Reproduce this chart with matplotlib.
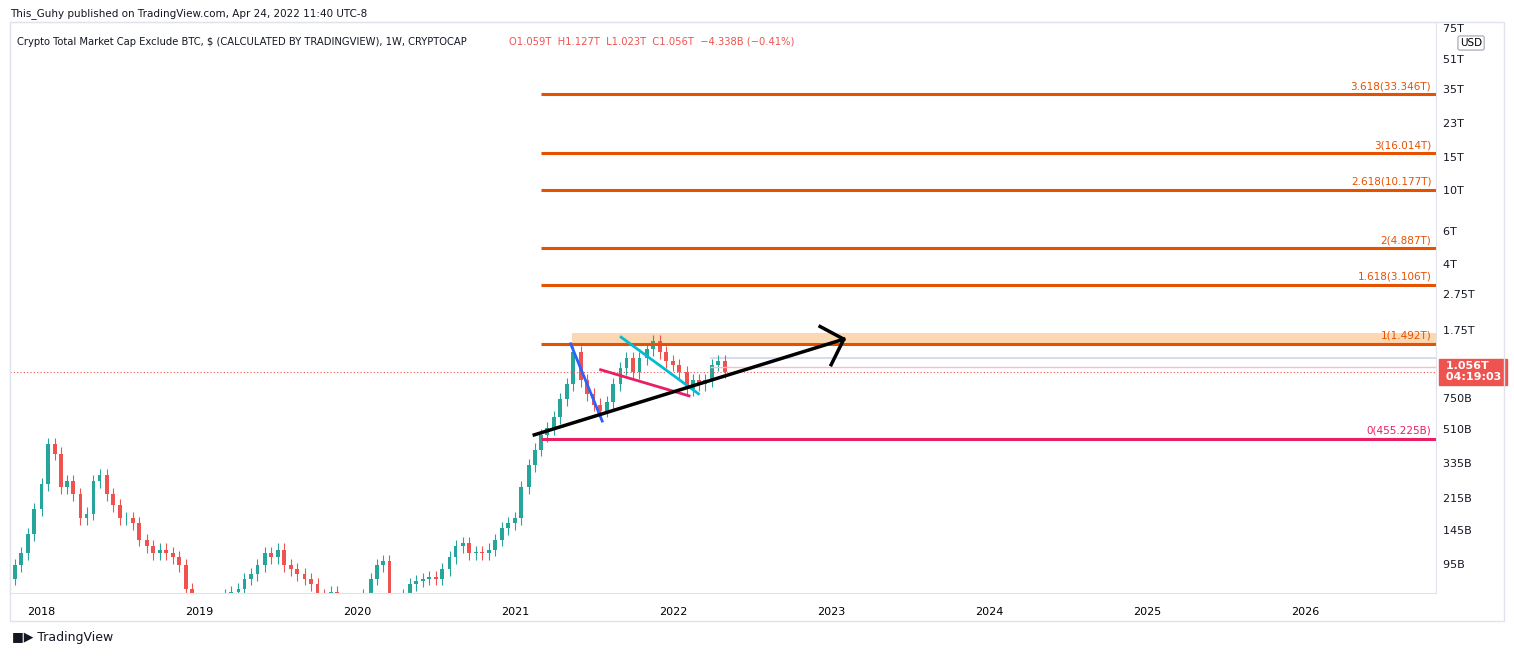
import matplotlib
matplotlib.use("Agg")
import matplotlib.pyplot as plt
import numpy as np
import pandas as pd

# half-monthly closes, billions USD, from mid-Sep 2017 to mid-Apr 2022
CLOSES = [
    75, 80, 95, 110, 140, 190, 260,
    430, 380, 250, 270, 230, 170, 180, 270, 290, 230, 200, 170, 170, 160,
    130, 120, 110, 115, 110, 105, 95, 70, 55, 62,
    60, 55, 58, 65, 68, 70, 80, 85, 95, 110, 105, 115, 95, 90, 85, 80,
    75, 65, 62, 68, 62, 58, 55, 56,
    65, 80, 95, 100, 60, 55, 65, 75, 78, 80, 82, 80, 90, 105, 120, 125,
    110, 112, 110, 115, 130, 150, 160, 170,
    250, 330, 400, 480, 520, 600, 750, 900, 1350, 950, 800, 700, 650, 720,
    900, 1100, 1250, 1050, 1250, 1400, 1550, 1350, 1200, 1150,
    1050, 850, 950, 900, 950, 1150, 1200, 1056,
]
START = "2017-09-16"

FIB_LEVELS = [33346, 16014, 10177, 4887, 3106, 1492]
FIB_LABELS = ["3.618(33.346T)", "3(16.014T)", "2.618(10.177T)", "2(4.887T)", "1.618(3.106T)", "1(1.492T)"]
FIB_ZERO = 455.225
FIB_START = 2021.16

Y_TICKS = [95, 145, 215, 335, 510, 750, 1150, 1750, 2750, 4000, 6000, 10000, 15000, 23000, 35000, 51000, 75000]
Y_TICK_LABELS = ["95B", "145B", "215B", "335B", "510B", "750B", "1.15T", "1.75T", "2.75T", "4T", "6T",
                 "10T", "15T", "23T", "35T", "51T", "75T"]
YEARS = list(range(2018, 2027))

# drawings: (x0, y0, x1, y1) in year / billions
BLUE_LINE = (2021.35, 1492, 2021.55, 570)
TEAL_LINE = (2021.67, 1620, 2022.16, 800)
PINK_LINE = (2021.54, 1080, 2022.10, 780)
BLACK_ARROW = (2021.12, 480, 2023.08, 1580)
ARROW_HEAD = [(2022.93, 1850), (2023.08, 1580), (2023.00, 1150)]

UP, DOWN = "#26a69a", "#ef5350"
ORANGE, PINK = "#e65100", "#e91e63"

dates = pd.date_range(START, periods=len(CLOSES), freq="SMS")
xs = dates.year + (dates.dayofyear - 1) / 365.25
closes = np.array(CLOSES, dtype=float)
opens = np.r_[closes[0] * 0.95, closes[:-1]]

fig = plt.figure(figsize=(15.14, 6.57), dpi=100)
ax = fig.add_axes([10 / 1514, 64 / 657, 1426 / 1514, 571 / 657])
ax.set_yscale("log")
ax.set_ylim(67, 82000)
ax.set_xlim(2017.8, 2026.83)

for x, o, c in zip(xs, opens, closes):
    col = UP if c >= o else DOWN
    ax.vlines(x, min(o, c) * 0.92, max(o, c) * 1.08, color=col, lw=0.8)
    ax.bar(x, max(o, c) - min(o, c), bottom=min(o, c), width=0.024, color=col, lw=0)

for lvl, lab in zip(FIB_LEVELS, FIB_LABELS):
    ax.hlines(lvl, FIB_START, 2026.83, color=ORANGE, lw=2.2)
    ax.text(2026.8, lvl * 1.04, lab, color=ORANGE, fontsize=7.5, ha="right", va="bottom")
ax.hlines(FIB_ZERO, FIB_START, 2026.83, color=PINK, lw=2.2)
ax.text(2026.8, FIB_ZERO * 1.04, "0(455.225B)", color=PINK, fontsize=7.5, ha="right", va="bottom")
ax.fill_between([2021.36, 2026.83], 1492, 1700, color="#f57c00", alpha=0.3, lw=0)
ax.fill_between([2022.23, 2026.83], 1230, 1270, color="#9fa8da", alpha=0.4, lw=0)
ax.hlines(1120, 2022.23, 2026.83, color="#f8bbd0", lw=1)
ax.axhline(1056, color=DOWN, lw=0.8, ls=(0, (1, 2)))

for (x0, y0, x1, y1), col in [(BLUE_LINE, "#2962ff"), (TEAL_LINE, "#00bcd4"), (PINK_LINE, PINK)]:
    ax.plot([x0, x1], [y0, y1], color=col, lw=2)
ax.plot(BLACK_ARROW[::2], BLACK_ARROW[1::2], color="black", lw=2.5)
ax.plot([p[0] for p in ARROW_HEAD], [p[1] for p in ARROW_HEAD], color="black", lw=2.5)

ax.set_yticks([])
ax.minorticks_off()
ax.set_xticks([])
for s in ax.spines.values():
    s.set_color("#e0e3eb")

for t, lab in zip(Y_TICKS, Y_TICK_LABELS):
    if t == 1150:
        continue
    ax.text(1.0, t, "  " + lab, transform=ax.get_yaxis_transform(), fontsize=8, va="center",
            color="#131722", clip_on=False)
ax.text(1.004, 1056, " 1.056T \n 04:19:03 ", transform=ax.get_yaxis_transform(), fontsize=8,
        va="center", color="white", fontweight="bold",
        bbox=dict(boxstyle="square,pad=0.2", fc=DOWN, ec=DOWN), clip_on=False)
for y in YEARS:
    ax.text(y, -0.025, str(y), transform=ax.get_xaxis_transform(), ha="center", va="top", fontsize=8)

fig.text(10 / 1514, 1 - 14 / 657, "This_Guhy published on TradingView.com, Apr 24, 2022 11:40 UTC-8",
         fontsize=7.5, va="center", color="#131722")
fig.text(17 / 1514, 1 - 42 / 657,
         "Crypto Total Market Cap Exclude BTC, $ (CALCULATED BY TRADINGVIEW), 1W, CRYPTOCAP",
         fontsize=7.2, va="center", color="#131722")
fig.text(509 / 1514, 1 - 42 / 657, "O1.059T  H1.127T  L1.023T  C1.056T  \u22124.338B (\u22120.41%)",
         fontsize=7.2, va="center", color=DOWN)
fig.text(1460 / 1514, 1 - 43 / 657, "USD", fontsize=7.5, va="center",
         bbox=dict(boxstyle="round,pad=0.2", fc="white", ec="#b2b5be"))
fig.text(12 / 1514, 1 - 638 / 657, "\u25A0\u25B6 TradingView", fontsize=9, va="center", color="#131722")
fig.add_artist(plt.Rectangle((10 / 1514, 36 / 657), 1494 / 1514, 599 / 657, fill=False,
                             ec="#e0e3eb", lw=1, transform=fig.transFigure))

fig.savefig("out.png", dpi=100)
